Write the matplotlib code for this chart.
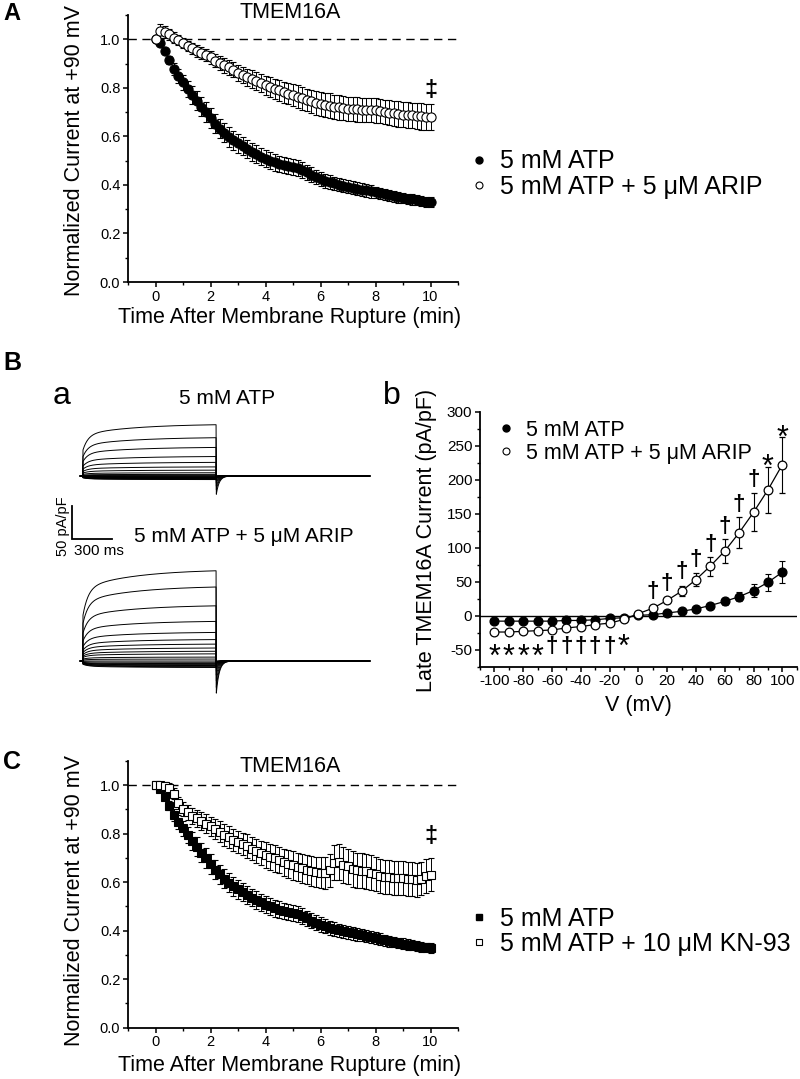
import numpy as np
import matplotlib
matplotlib.use('Agg')
import matplotlib.pyplot as plt
from matplotlib.ticker import MultipleLocator
from matplotlib.lines import Line2D

plt.rcParams['font.family'] = ['Liberation Sans', 'DejaVu Sans']
plt.rcParams['axes.unicode_minus'] = False

# ---------------- data: time courses (A and C) ----------------
time_s = [0, 10, 20, 30, 40, 50, 60, 70, 80, 90, 100, 110, 120, 130, 140, 150,
          160, 170, 180, 190, 200, 210, 220, 230, 240, 250, 260, 270, 280, 290,
          300, 310, 320, 330, 340, 350, 360, 370, 380, 390, 400, 410, 420, 430,
          440, 450, 460, 470, 480, 490, 500, 510, 520, 530, 540, 550, 560, 570,
          580, 590, 600]

atp_mean = [1.0, 0.985, 0.952, 0.915, 0.877, 0.848, 0.822, 0.795, 0.770, 0.747,
            0.722, 0.700, 0.675, 0.652, 0.632, 0.615, 0.598, 0.583, 0.571, 0.560,
            0.548, 0.537, 0.527, 0.517, 0.508, 0.500, 0.493, 0.487, 0.482, 0.478,
            0.475, 0.470, 0.461, 0.452, 0.442, 0.433, 0.425, 0.418, 0.411, 0.406,
            0.401, 0.397, 0.393, 0.389, 0.385, 0.381, 0.377, 0.373, 0.369, 0.365,
            0.361, 0.357, 0.353, 0.349, 0.346, 0.343, 0.340, 0.337, 0.334, 0.331,
            0.329]
atp_err = [0.0, 0.005, 0.012, 0.018, 0.024, 0.028, 0.031, 0.034, 0.036, 0.038,
           0.039, 0.040, 0.040, 0.040, 0.040, 0.040, 0.040, 0.039, 0.039, 0.038,
           0.038, 0.037, 0.037, 0.036, 0.036, 0.035, 0.035, 0.034, 0.034, 0.033,
           0.033, 0.032, 0.032, 0.031, 0.031, 0.030, 0.030, 0.029, 0.029, 0.028,
           0.028, 0.027, 0.027, 0.026, 0.026, 0.025, 0.025, 0.025, 0.024, 0.024,
           0.023, 0.023, 0.022, 0.022, 0.022, 0.021, 0.021, 0.021, 0.020, 0.020,
           0.020]

arip_mean = [1.0, 1.035, 1.030, 1.020, 1.007, 0.997, 0.985, 0.972, 0.963, 0.953,
             0.944, 0.935, 0.925, 0.912, 0.903, 0.893, 0.884, 0.875, 0.860, 0.852,
             0.844, 0.836, 0.828, 0.820, 0.810, 0.803, 0.795, 0.789, 0.782, 0.776,
             0.770, 0.764, 0.757, 0.750, 0.744, 0.738, 0.733, 0.730, 0.727, 0.722,
             0.719, 0.716, 0.714, 0.712, 0.711, 0.710, 0.709, 0.708, 0.707, 0.704,
             0.700, 0.698, 0.695, 0.692, 0.690, 0.688, 0.686, 0.684, 0.682, 0.680,
             0.680]
arip_err = [0.0, 0.028, 0.026, 0.024, 0.022, 0.021, 0.021, 0.022, 0.023, 0.024,
            0.025, 0.026, 0.027, 0.028, 0.029, 0.030, 0.031, 0.032, 0.033, 0.034,
            0.035, 0.036, 0.037, 0.038, 0.039, 0.040, 0.041, 0.042, 0.043, 0.044,
            0.045, 0.046, 0.047, 0.047, 0.048, 0.048, 0.049, 0.049, 0.050, 0.050,
            0.050, 0.050, 0.050, 0.050, 0.050, 0.050, 0.050, 0.050, 0.050, 0.051,
            0.051, 0.051, 0.052, 0.052, 0.052, 0.053, 0.053, 0.054, 0.054, 0.055,
            0.055]

kn93_mean = [1.0, 1.0, 0.997, 0.990, 0.965, 0.925, 0.903, 0.888, 0.874, 0.863,
             0.852, 0.842, 0.831, 0.820, 0.808, 0.796, 0.785, 0.775, 0.766, 0.758,
             0.749, 0.739, 0.729, 0.720, 0.712, 0.705, 0.698, 0.691, 0.683, 0.676,
             0.669, 0.663, 0.658, 0.652, 0.647, 0.643, 0.639, 0.637, 0.650, 0.680,
             0.683, 0.672, 0.665, 0.655, 0.650, 0.648, 0.645, 0.640, 0.632, 0.626,
             0.623, 0.621, 0.619, 0.617, 0.616, 0.614, 0.612, 0.610, 0.615, 0.625,
             0.630]
kn93_err = [0.0, 0.010, 0.015, 0.020, 0.022, 0.025, 0.028, 0.030, 0.032, 0.034,
            0.036, 0.038, 0.040, 0.042, 0.044, 0.045, 0.045, 0.045, 0.046, 0.047,
            0.048, 0.049, 0.050, 0.051, 0.052, 0.053, 0.054, 0.055, 0.056, 0.057,
            0.058, 0.059, 0.060, 0.061, 0.062, 0.063, 0.064, 0.065, 0.068, 0.072,
            0.075, 0.075, 0.074, 0.073, 0.072, 0.072, 0.071, 0.071, 0.070, 0.070,
            0.070, 0.070, 0.070, 0.070, 0.070, 0.070, 0.070, 0.069, 0.069, 0.069,
            0.068]

# ---------------- data: I-V (B b) ----------------
voltages = [-100, -90, -80, -70, -60, -50, -40, -30, -20, -10, 0,
            10, 20, 30, 40, 50, 60, 70, 80, 90, 100]
iv_atp = [-8, -8, -8, -8, -8, -7, -7, -6, -4, -3, 0.5,
          1.5, 4, 6.5, 10, 15, 21, 28, 37, 49, 64]
iv_atp_err = [1, 1, 1, 1, 1, 1, 1, 1, 1, 1, 1,
              1, 1.5, 2, 2.5, 3, 5, 7, 10, 13, 16]
iv_arip = [-24, -24, -23, -22, -21, -18, -16, -13, -11, -5.5, 3,
           11, 22.5, 36, 53, 73, 95, 122, 152, 185, 222]
iv_arip_err = [2, 2, 2, 2, 2, 2, 2, 2, 2, 2, 1,
               3, 4, 7, 10, 14, 18, 23, 28, 34, 41]

# significance marks: voltage, centre height (pA/pF), symbol
sig_v = [10, 20, 30, 40, 50, 60, 70, 80, 90, 100,
         -100, -90, -80, -70, -60, -50, -40, -30, -20, -10]
sig_y = [36, 48, 65, 83, 105, 131, 163, 200, 232, 275,
         -47, -47, -47, -47, -45, -45, -45, -45, -45, -33]
sig_s = ['†', '†', '†', '†', '†', '†', '†', '†', '*', '*',
         '*', '*', '*', '*', '†', '†', '†', '†', '†', '*']

# ---------------- data: representative traces (B a), pA/pF at end of step ----------------
trace_atp_amp = [79, 59, 44, 30, 21, 14, 9, 5, 2.5, 1, 0,
                 -1, -1.5, -2, -2.5, -3, -3.5, -4, -4.5, -5, -5.5]
trace_arip_amp = [139, 114, 85, 61, 44, 33, 26, 20, 15, 11, 6,
                  3, 0, -2, -4, -5, -6, -7, -8, -9, -10]
step_ms = 1000

W, H = 800, 1079
fig = plt.figure(figsize=(W / 100, H / 100), dpi=100)


def fx(x):
    return x / W


def fy(y):
    return 1 - y / H


def axes_px(x0, y0, x1, y1):
    return fig.add_axes([fx(x0), fy(y1), (x1 - x0) / W, (y1 - y0) / H])


def style_time_axes(ax):
    for s in ['top', 'right']:
        ax.spines[s].set_visible(False)
    for s in ['left', 'bottom']:
        ax.spines[s].set_linewidth(1.3)
    ax.set_xlim(-1, 11)
    ax.set_ylim(0, 1.1)
    ax.xaxis.set_minor_locator(MultipleLocator(1))
    ax.yaxis.set_minor_locator(MultipleLocator(0.1))
    ax.set_xticks([0, 2, 4, 6, 8, 10])
    ax.set_yticks([0.0, 0.2, 0.4, 0.6, 0.8, 1.0])
    ax.set_yticklabels(['0.0', '0.2', '0.4', '0.6', '0.8', '1.0'])
    ax.tick_params(which='major', direction='out', length=3.5, width=1.1, labelsize=10.5, pad=2)
    ax.tick_params(which='minor', direction='out', length=2.2, width=1.0)
    ax.axhline(1.0, color='black', lw=1.0, ls=(0, (6, 4)), zorder=1)


t_min = np.array(time_s) / 60.0
eb = dict(ecolor='black', elinewidth=0.7, capsize=2.4, capthick=0.7, mec='black', mew=0.8)

# ---------------- Panel A ----------------
axA = axes_px(128, 15, 458, 282)
style_time_axes(axA)
axA.errorbar(t_min, atp_mean, yerr=atp_err, fmt='o', ms=6.6, mfc='black', zorder=2, **eb)
axA.errorbar(t_min, arip_mean, yerr=arip_err, fmt='o', ms=6.6, mfc='white', zorder=3, **eb)
axA.text(10, 0.79, '‡', ha='center', va='center', fontsize=17, fontweight='bold')

fig.text(fx(3), fy(13), 'A', fontsize=17, fontweight='bold', ha='left', va='center')
fig.text(fx(290), fy(12), 'TMEM16A', fontsize=15.5, ha='center', va='center')
fig.text(fx(75), fy(151), 'Normalized Current at +90 mV', rotation=90, fontsize=15.5,
         ha='center', va='center')
fig.text(fx(290), fy(317), 'Time After Membrane Rupture (min)', fontsize=15.5,
         ha='center', va='center')

hA = [Line2D([], [], ls='none', marker='o', ms=5, mfc='black', mec='black'),
      Line2D([], [], ls='none', marker='o', ms=5, mfc='white', mec='black', mew=0.8)]
fig.legend(hA, ['5 mM ATP', '5 mM ATP + 5 \u03bcM ARIP'], loc='upper left',
           bbox_to_anchor=(fx(460), fy(137)), frameon=False, fontsize=18,
           handlelength=0.5, handletextpad=0.6, labelspacing=0.05, borderpad=0)

# ---------------- Panel C ----------------
axC = axes_px(128, 761, 458, 1027.7)
style_time_axes(axC)
axC.errorbar(t_min, atp_mean, yerr=atp_err, fmt='s', ms=6.0, mfc='black', zorder=2, **eb)
axC.errorbar(t_min, kn93_mean, yerr=kn93_err, fmt='s', ms=6.0, mfc='white', zorder=3, **eb)
axC.text(10, 0.79, '‡', ha='center', va='center', fontsize=17, fontweight='bold')

fig.text(fx(3), fy(762), 'C', fontsize=18, fontweight='bold', ha='left', va='center')
fig.text(fx(290), fy(766), 'TMEM16A', fontsize=15.5, ha='center', va='center')
fig.text(fx(75), fy(901), 'Normalized Current at +90 mV', rotation=90, fontsize=15.5,
         ha='center', va='center')
fig.text(fx(290), fy(1066), 'Time After Membrane Rupture (min)', fontsize=15.5,
         ha='center', va='center')

hC = [Line2D([], [], ls='none', marker='s', ms=4.5, mfc='black', mec='black'),
      Line2D([], [], ls='none', marker='s', ms=4.5, mfc='white', mec='black', mew=0.8)]
fig.legend(hC, ['5 mM ATP', '5 mM ATP + 10 \u03bcM KN-93'], loc='upper left',
           bbox_to_anchor=(fx(460), fy(894)), frameon=False, fontsize=18,
           handlelength=0.5, handletextpad=0.6, labelspacing=0.05, borderpad=0)

# ---------------- Panel B a : traces ----------------
px_per_ms = 40 / 300.0
px_per_unit = 33 / 50.0
t0_x = 83


def trace_axes(zero_y, ymin, ymax):
    tmin, tmax = -100, 2250
    x0 = t0_x + tmin * px_per_ms
    x1 = t0_x + tmax * px_per_ms
    y_top = zero_y - ymax * px_per_unit
    y_bot = zero_y - ymin * px_per_unit
    ax = axes_px(x0, y_top, x1, y_bot)
    ax.set_xlim(tmin, tmax)
    ax.set_ylim(ymin, ymax)
    ax.axis('off')
    return ax


t = np.linspace(-20, 2150, 1086)


def make_trace(amp):
    y = np.zeros_like(t)
    on = (t >= 0) & (t < step_ms)
    y[on] = amp * (1 - 0.3 * np.exp(-t[on] / 40.0) - 0.2 * np.exp(-t[on] / 400.0))
    off = t >= step_ms
    decay = np.exp(-(t[off] - step_ms) / 22.0)
    y[off] = -0.35 * max(amp, 0) * decay + 0.25 * min(amp, 0) * decay
    return y


axT1 = trace_axes(476, -60, 110)
for a in trace_atp_amp:
    axT1.plot(t, make_trace(a), color='black', lw=0.7)

axT2 = trace_axes(661, -60, 150)
for a in trace_arip_amp:
    axT2.plot(t, make_trace(a), color='black', lw=0.7)

# scale bar (50 pA/pF, 300 ms) drawn in top-trace data units
sb_t = -82
sb_y = -95
axT1.plot([sb_t, sb_t, sb_t + 300], [sb_y + 50, sb_y, sb_y], color='black', lw=1.3,
          clip_on=False, solid_joinstyle='miter')

fig.text(fx(3), fy(363), 'B', fontsize=18, fontweight='bold', ha='left', va='center')
fig.text(fx(62), fy(396), 'a', fontsize=23, ha='center', va='center')
fig.text(fx(227), fy(398), '5 mM ATP', fontsize=15, ha='center', va='center')
fig.text(fx(244), fy(537), '5 mM ATP + 5 \u03bcM ARIP', fontsize=15, ha='center', va='center')
fig.text(fx(63), fy(526), '50 pA/pF', rotation=90, fontsize=10.5, ha='center', va='center')
fig.text(fx(99), fy(551), '300 ms', fontsize=11, ha='center', va='center')

# ---------------- Panel B b : I-V ----------------
axIV = axes_px(480, 411.7, 796.7, 666.7)
for s in ['top', 'right']:
    axIV.spines[s].set_visible(False)
for s in ['left', 'bottom']:
    axIV.spines[s].set_linewidth(1.3)
axIV.set_xlim(-110, 110)
axIV.set_ylim(-75, 300)
axIV.set_xticks([-100, -80, -60, -40, -20, 0, 20, 40, 60, 80, 100])
axIV.xaxis.set_minor_locator(MultipleLocator(10))
axIV.set_yticks([-50, 0, 50, 100, 150, 200, 250, 300])
axIV.yaxis.set_minor_locator(MultipleLocator(25))
axIV.tick_params(which='major', direction='out', length=3.5, width=1.1, labelsize=11, pad=2)
axIV.tick_params(which='minor', direction='out', length=2.2, width=1.0)
axIV.axhline(0, color='black', lw=1.0, zorder=1)

axIV.errorbar(voltages, iv_atp, yerr=iv_atp_err, fmt='-o', color='black', lw=0.9, ms=6.3,
              mfc='black', mec='black', elinewidth=0.8, capsize=2.5, capthick=0.8, zorder=3)
axIV.errorbar(voltages, iv_arip, yerr=iv_arip_err, fmt='-o', color='black', lw=0.9, ms=6.3,
              mfc='white', mec='black', mew=0.9, elinewidth=0.8, capsize=2.5, capthick=0.8, zorder=4)

# asterisk glyph sits high in the em box: shift baseline so the glyph centre hits y
star_size = 22
star_shift = 0.58 * star_size / 0.72 / 0.6756  # data units (0.6756 px per pA/pF)
for v, y, s in zip(sig_v, sig_y, sig_s):
    if s == '*':
        axIV.text(v, y - star_shift, s, ha='center', va='baseline', fontsize=star_size)
    else:
        axIV.text(v, y, s, ha='center', va='center', fontsize=16, fontweight='bold')

hB = [Line2D([], [], ls='none', marker='o', ms=5, mfc='black', mec='black'),
      Line2D([], [], ls='none', marker='o', ms=5, mfc='white', mec='black', mew=0.8)]
axIV.legend(hB, ['5 mM ATP', '5 mM ATP + 5 \u03bcM ARIP'], loc='upper left',
            bbox_to_anchor=(fx(489), fy(409)), bbox_transform=fig.transFigure,
            frameon=False, fontsize=15.5, handlelength=0.6, handletextpad=0.6,
            labelspacing=0.1, borderpad=0)

fig.text(fx(392), fy(396), 'b', fontsize=23, ha='center', va='center')
fig.text(fx(427), fy(540), 'Late TMEM16A Current (pA/pF)', rotation=90, fontsize=15.5,
         ha='center', va='center')
fig.text(fx(638), fy(706), 'V (mV)', fontsize=15.5, ha='center', va='center')

fig.savefig('out.png', dpi=100)
